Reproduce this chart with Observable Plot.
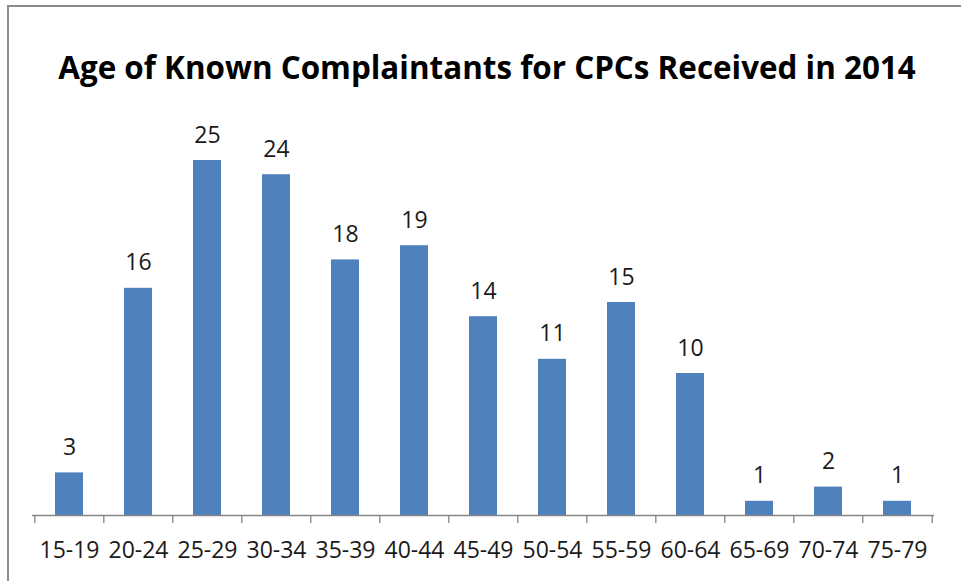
<!DOCTYPE html>
<html>
<head>
<meta charset="utf-8">
<script src="https://cdn.jsdelivr.net/npm/d3@7"></script>
<script src="https://cdn.jsdelivr.net/npm/@observablehq/plot@0.6"></script>
<style>
  html, body { margin: 0; padding: 0; background: #fff; }
  #wrap { position: relative; width: 961px; height: 581px; overflow: hidden; }
  #frame { position: absolute; left: 7px; top: 5px; width: 1000px; height: 700px;
           border-top: 2px solid #8c8c8c; border-left: 2px solid #8c8c8c; }
  #title { position: absolute; left: 0; top: 45px; width: 974px; text-align: center;
           font-family: "Open Sans", sans-serif; font-weight: 700; font-size: 31.4px; color: #000; }
  #chart { position: absolute; left: 0; top: 0; }
</style>
</head>
<body>
<div id="wrap">
  <div id="frame"></div>
  <div id="title">Age of Known Complaintants for CPCs Received in 2014</div>
  <div id="chart"></div>
</div>
<script>
const categories = ["15-19","20-24","25-29","30-34","35-39","40-44","45-49","50-54","55-59","60-64","65-69","70-74","75-79"];
const counts = [3,16,25,24,18,19,14,11,15,10,1,2,1];

const data = categories.map((c, i) => ({age: c, count: counts[i]}));

const W = 961, H = 581;
const mL = 32, mR = W - 934;
const step = (W - mL - mR) / categories.length;

const plot = Plot.plot({
  width: W,
  height: H,
  marginLeft: mL,
  marginRight: mR,
  marginTop: 160,
  marginBottom: 66,
  style: { fontFamily: "'Open Sans', sans-serif", background: "transparent", overflow: "visible" },
  x: { domain: categories, paddingInner: 0.6, paddingOuter: 0.3, align: 0.5, label: null },
  y: { domain: [0, 25], axis: null },
  marks: [
    Plot.barY(data, { x: "age", y: "count", fill: "#4F81BD" }),
    Plot.ruleY([0], { stroke: "#868686", strokeWidth: 1.3 }),
    Plot.ruleX(categories, { x: d => d, y1: 0, y2: 0, insetBottom: -8, dx: -step / 2, stroke: "#868686", strokeWidth: 1.3 }),
    Plot.ruleX([categories[categories.length - 1]], { x: d => d, y1: 0, y2: 0, insetBottom: -8, dx: step / 2, stroke: "#868686", strokeWidth: 1.3 }),
    Plot.text(data, { x: "age", y: "count", text: d => String(d.count), lineAnchor: "bottom", dy: -18, fontSize: 23, fill: "#1a1a1a" }),
    Plot.axisX({ tickSize: 0, tickPadding: 26, fontSize: 23, color: "#1a1a1a", label: null })
  ]
});
document.getElementById("chart").appendChild(plot);
</script>
</body>
</html>
